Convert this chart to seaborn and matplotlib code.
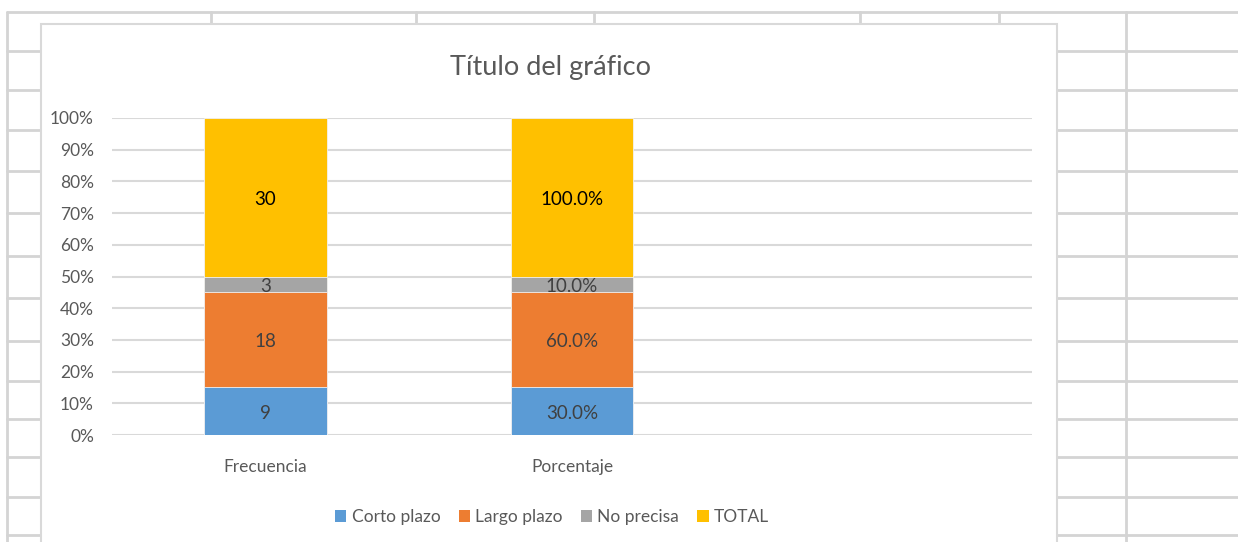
import numpy as np
import pandas as pd
import matplotlib
matplotlib.use("Agg")
import matplotlib.pyplot as plt
from matplotlib.lines import Line2D
from matplotlib.patches import Rectangle, Patch
import seaborn as sns

# ---- data ----
categories = ["Frecuencia", "Porcentaje"]
empty_slot = [""]
series = ["Corto plazo", "Largo plazo", "No precisa", "TOTAL"]
frecuencia = [9, 18, 3, 30]
porcentaje = [30.0, 60.0, 10.0, 100.0]
y_ticks = [0, 10, 20, 30, 40, 50, 60, 70, 80, 90, 100]
title = "Título del gráfico"

colors = ["#5B9BD5", "#ED7D31", "#A5A5A5", "#FFC000"]
label_colors = ["#404040", "#404040", "#404040", "#000000"]
label_fmt = [lambda v: f"{v:g}", lambda v: f"{v:.1f}%"]

sns.set_theme(style="white")
plt.rcParams["font.family"] = ["Lato", "DejaVu Sans"]

W, H = 1238, 542
fig = plt.figure(figsize=(W / 100, H / 100), dpi=100)
fig.patch.set_facecolor("white")

def fx(px):
    return px / W

def fy(py):
    return 1 - py / H

# ---- worksheet background grid ----
gcol = "#D4D4D4"
def fline(x0, y0, x1, y1):
    fig.add_artist(Line2D([fx(x0), fx(x1)], [fy(y0), fy(y1)], transform=fig.transFigure,
                          color=gcol, lw=2, zorder=-3))

fline(7, 12, W, 12)
fline(7, 12, 7, H)
fline(1126, 12, 1126, H)
for xc in [211, 416, 594, 860, 999]:
    fline(xc, 12, xc, 26)
for yr in [51, 90, 130, 171, 213, 256, 298, 341, 381, 419, 457, 497, 535]:
    fline(7, yr, 41, yr)
    fline(1057, yr, W, yr)

# chart area
fig.add_artist(Rectangle((fx(41), fy(H + 5)), fx(1057) - fx(41), fy(24) - fy(H + 5),
                         transform=fig.transFigure, facecolor="white", edgecolor="#D9D9D9",
                         lw=1.5, zorder=-1))

# ---- plot ----
ax = fig.add_axes([fx(112), fy(435), fx(1032) - fx(112), fy(118) - fy(435)])
ax.set_facecolor("none")

values = {"Frecuencia": frecuencia, "Porcentaje": porcentaje}
rows = []
for c in categories:
    v = np.array(values[c], dtype=float)
    share = v / v.sum() * 100
    cum = np.cumsum(share)
    for i, s in enumerate(series):
        rows.append({"category": c, "series": s, "value": v[i], "share": share[i],
                     "top": cum[i], "bottom": cum[i] - share[i]})
df = pd.DataFrame(rows)

order = categories + empty_slot
for i in reversed(range(len(series))):
    sub = df[df["series"] == series[i]]
    sns.barplot(data=sub, x="category", y="top", order=order, color=colors[i],
                saturation=1, width=0.4, errorbar=None, ax=ax, zorder=3,
                edgecolor="#F2F2F2", linewidth=0.6)

for ci, c in enumerate(categories):
    sub = df[df["category"] == c]
    for i, s in enumerate(series):
        r = sub[sub["series"] == s].iloc[0]
        ax.text(ci, r["bottom"] + r["share"] / 2 - 0.6, label_fmt[ci](r["value"]),
                ha="center", va="center", fontsize=13.5, color=label_colors[i], zorder=5)

ax.set_ylim(0, 100)
ax.set_xlim(-0.5, 2.5)
ax.set_yticks(y_ticks)
ax.set_yticklabels([f"{t}%" for t in y_ticks])
ax.yaxis.grid(True, color="#D9D9D9", lw=1.5, zorder=0)
ax.set_axisbelow(True)
for sp in ax.spines.values():
    sp.set_visible(False)
ax.tick_params(axis="both", length=0, colors="#595959", labelsize=12.5)
ax.tick_params(axis="y", pad=13)
ax.tick_params(axis="x", pad=17)
ax.set_xlabel("")
ax.set_ylabel("")

fig.text(fx(550), fy(68), title, ha="center", va="center", fontsize=19.5, color="#595959")

handles = [Patch(facecolor=colors[i], edgecolor="none", label=series[i]) for i in range(len(series))]
fig.legend(handles=handles, loc="center", bbox_to_anchor=(fx(552), fy(517)), ncol=4,
           frameon=False, fontsize=12.5, handlelength=0.65, handleheight=0.65,
           handletextpad=0.3, columnspacing=1.05, labelcolor="#595959")

fig.savefig("out.png", dpi=100, facecolor="white")
